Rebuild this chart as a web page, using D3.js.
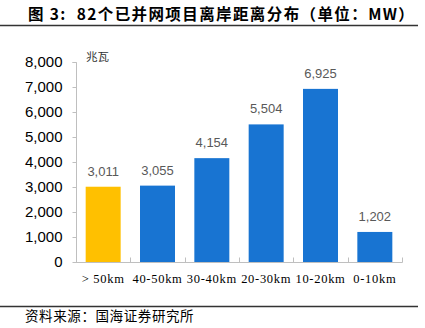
<!DOCTYPE html>
<html>
<head>
<meta charset="utf-8">
<script src="https://cdn.jsdelivr.net/npm/d3@7"></script>
<style>
  html, body { margin: 0; padding: 0; background: #fff; }
  svg { display: block; }
</style>
</head>
<body>
<script>
const categories = ["> 50km", "40-50km", "30-40km", "20-30km", "10-20km", "0-10km"];
const values = [3011, 3055, 4154, 5504, 6925, 1202];
const barColors = ["#FFC000", "#1874D2", "#1874D2", "#1874D2", "#1874D2", "#1874D2"];
const yTicks = [0, 1000, 2000, 3000, 4000, 5000, 6000, 7000, 8000];
const titleText = "图 3:  82个已并网项目离岸距离分布（单位：MW）";
const unitText = "兆瓦";
const sourceText = "资料来源：国海证券研究所";

const W = 425, H = 328;
const svg = d3.select("body").append("svg").attr("width", W).attr("height", H);

// Title
svg.append("text")
  .attr("x", 28).attr("y", 19.5)
  .attr("font-family", "'Noto Sans CJK SC', 'Liberation Sans', sans-serif")
  .attr("font-weight", "bold").attr("font-size", 15.5)
  .attr("letter-spacing", 1.4)
  .style("white-space", "pre")
  .attr("fill", "#000")
  .text(titleText);
svg.append("line").attr("x1", 0).attr("x2", 418).attr("y1", 25.5).attr("y2", 25.5)
  .attr("stroke", "#333").attr("stroke-width", 1.5);

const x = d3.scaleBand().domain(categories).range([76, 402]).paddingInner(0.356).paddingOuter(0.178);
const y = d3.scaleLinear().domain([0, 8000]).range([262, 62]);

// Y axis
const yAxis = d3.axisLeft(y).tickValues(yTicks).tickSize(4).tickPadding(10)
  .tickFormat(d3.format(","));
const gy = svg.append("g").attr("transform", "translate(76.5,0)").call(yAxis);
gy.select(".domain").attr("stroke", "#bfbfbf").attr("d", `M-4,${y(8000)+0.5}H0V${y(0)+0.5}`);
gy.selectAll(".tick line").attr("stroke", "#bfbfbf");
gy.selectAll(".tick text").attr("font-family", "'Liberation Sans', Arial, sans-serif")
  .attr("font-size", 15).attr("fill", "#000");

// Bars
svg.selectAll("rect.bar").data(values).enter().append("rect")
  .attr("class", "bar")
  .attr("x", (d, i) => x(categories[i]))
  .attr("width", x.bandwidth())
  .attr("y", d => y(d))
  .attr("height", d => y(0) - y(d))
  .attr("fill", (d, i) => barColors[i]);

// X axis
const gx = svg.append("g").attr("transform", `translate(0,${y(0) + 0.5})`);
gx.append("line").attr("x1", 76).attr("x2", 402.5).attr("y1", 0).attr("y2", 0).attr("stroke", "#bfbfbf");
const step = x.step();
const bounds = d3.range(categories.length + 1).map(i => 76 + i * step);
gx.selectAll("line.xt").data(bounds).enter().append("line")
  .attr("class", "xt")
  .attr("x1", d => Math.round(d) + 0.5).attr("x2", d => Math.round(d) + 0.5)
  .attr("y1", 0).attr("y2", -5).attr("stroke", "#bfbfbf");
gx.selectAll("text").data(categories).enter().append("text")
  .attr("x", d => x(d) + x.bandwidth() / 2)
  .attr("y", 20)
  .attr("text-anchor", "middle")
  .attr("font-family", "'Liberation Serif', 'Times New Roman', serif")
  .attr("font-size", 12.5).attr("letter-spacing", 0.7)
  .attr("fill", "#000")
  .text(d => d);

// Value labels
svg.selectAll("text.val").data(values).enter().append("text")
  .attr("class", "val")
  .attr("x", (d, i) => x(categories[i]) + x.bandwidth() / 2)
  .attr("y", d => y(d) - 11)
  .attr("text-anchor", "middle")
  .attr("font-family", "'Liberation Sans', Arial, sans-serif")
  .attr("font-size", 13).attr("fill", "#595959")
  .text(d => d3.format(",")(d));

// Unit label
svg.append("text").attr("x", 86).attr("y", 61)
  .attr("font-family", "'Noto Sans CJK SC', sans-serif")
  .attr("font-size", 11.5).attr("fill", "#333")
  .text(unitText);

// Source
svg.append("line").attr("x1", 0).attr("x2", 418).attr("y1", 306.5).attr("y2", 306.5)
  .attr("stroke", "#333").attr("stroke-width", 1.5);
svg.append("text").attr("x", 25).attr("y", 321)
  .attr("font-family", "'Noto Sans CJK SC', sans-serif")
  .attr("font-size", 13.5).attr("letter-spacing", 0.6).attr("fill", "#000")
  .text(sourceText);
</script>
</body>
</html>
